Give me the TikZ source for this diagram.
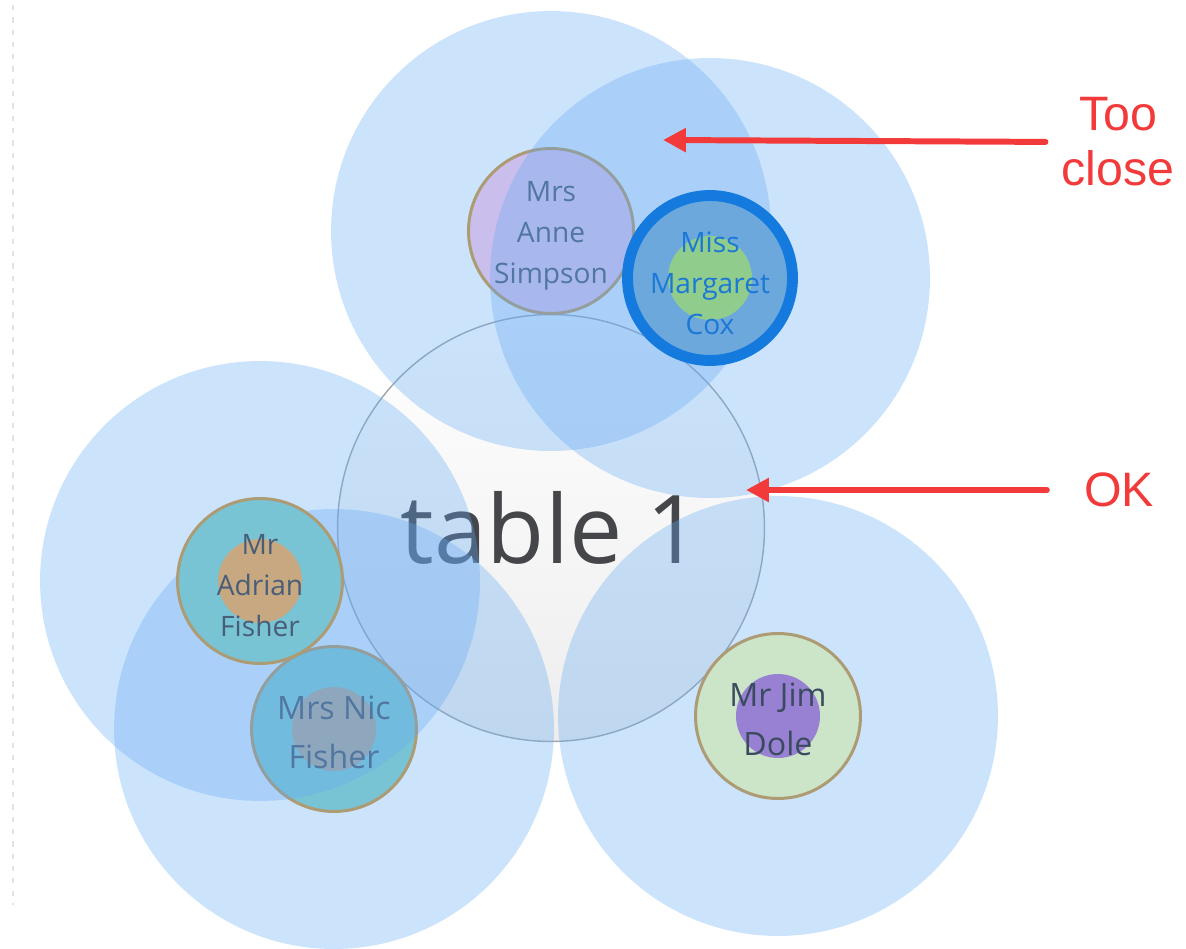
\documentclass[tikz,border=0pt]{standalone}
\usepackage{fontspec}
\newfontfamily\uifont{Open Sans}
\newfontfamily\notefont{Liberation Sans}
\usetikzlibrary{arrows.meta, positioning}

\definecolor{rangeblue}{RGB}{100,170,245}
\definecolor{tablerim}{RGB}{160,166,172}
\definecolor{tabletext}{RGB}{68,70,74}
\definecolor{guestrim}{RGB}{172,155,115}
\definecolor{guesttext}{RGB}{72,94,120}
\definecolor{annefill}{RGB}{202,190,236}
\definecolor{tealfill}{RGB}{120,196,212}
\definecolor{jimfill}{RGB}{204,228,200}
\definecolor{margaretfill}{RGB}{108,168,220}
\definecolor{margaretrim}{RGB}{20,122,222}
\definecolor{margarettext}{RGB}{28,120,214}
\definecolor{tancore}{RGB}{200,168,128}
\definecolor{graycore}{RGB}{165,166,162}
\definecolor{greencore}{RGB}{144,204,140}
\definecolor{purplecore}{RGB}{152,128,210}
\definecolor{notered}{RGB}{242,58,58}

\begin{document}
\begin{tikzpicture}[
  x=0.02cm, y=-0.02cm,
  reach/.style={circle, fill=rangeblue, fill opacity=0.33,
                minimum size=8.8cm, inner sep=0pt},
  guest/.style={circle, draw=guestrim, line width=1.7pt, fill=#1,
                minimum size=3.3cm, inner sep=0pt},
  core/.style={path picture={\fill[#1] (path picture bounding box.center) circle (0.84cm);}},
  guestname/.style={align=center, inner sep=0pt, yshift=-2.8pt, text=guesttext,
                    font=\uifont\fontsize{16}{23.3}\selectfont},
  bigname/.style={guestname, yshift=1pt, font=\uifont\fontsize{18.3}{28}\selectfont},
  tablebox/.style={circle, draw=tablerim, line width=0.8pt,
                   top color=white, bottom color=gray!14,
                   minimum size=8.54cm, inner sep=0pt, text=tabletext,
                   font=\uifont\fontsize{54}{60}\selectfont},
  note/.style={text=notered, font=\notefont\fontsize{27.5}{31.3}\selectfont,
               align=center, inner sep=0pt},
  warn/.style={-{Triangle[length=13pt,width=13pt]}, draw=notered,
               line width=3.4pt, line cap=round}
]
\useasboundingbox (0,0) rectangle (1186,949);

% page edge
\draw[gray!22, line width=0.8pt, dash pattern=on 3pt off 4pt] (13,5) -- (13,905);

% Table
\node[tablebox] (table) at (551,528) {table 1};

% Seats with their reach
\node[reach] (rAnne) at (551,231) {};
\node[guest=annefill] (anne) at (551,231) {};
\node[guestname] (anneName) at (anne) {Mrs\\Anne\\Simpson};

\node[reach] (rMargaret) at (710,278) {};
\node[guest=margaretfill, core=greencore, draw=margaretrim, line width=6.2pt] (margaret) at (710,278) {};
\node[guestname, text=margarettext] (margaretName) at (margaret) {Miss\\Margaret\\Cox};

\node[reach] (rNic) at (334,729) {};
\node[guest=tealfill, core=graycore] (nic) at (334,729) {};
\node[bigname] (nicName) at (nic) {Mrs Nic\\Fisher};

\node[reach] (rAdrian) at (260,581) {};
\node[guest=tealfill, core=tancore] (adrian) at (260,581) {};
\node[guestname] (adrianName) at (adrian) {Mr\\Adrian\\Fisher};

\node[reach] (rJim) at (778,716) {};
\node[guest=jimfill, core=purplecore] (jim) at (778,716) {};
\node[bigname, text=guesttext!80!black] (jimName) at (jim) {Mr Jim\\Dole};

% Notes
\node[note] (tooClose) at (1118,142) {Too\\close};
\node[note] (okNote) at (1119,490) {OK};
\coordinate (closeTip) at (663,140);
\coordinate (okTip) at (746,490);

\draw[warn, shorten <=9pt] (tooClose.west) -- (closeTip);
\draw[warn, shorten <=21pt] (okNote.west) -- (okTip);

\end{tikzpicture}
\end{document}
